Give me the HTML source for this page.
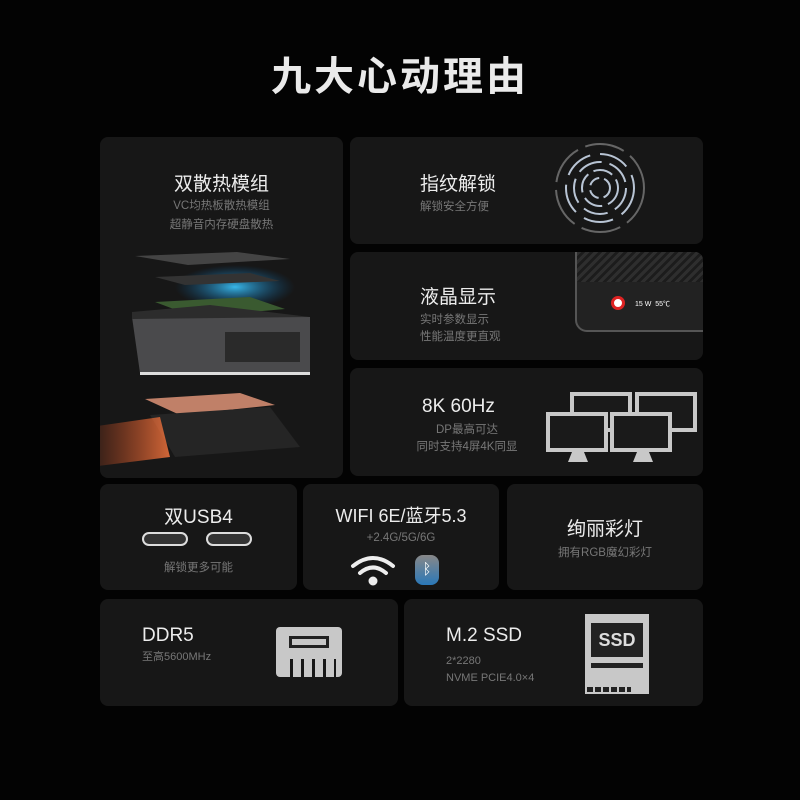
<!DOCTYPE html>
<html><head><meta charset="utf-8"><style>
*{margin:0;padding:0;box-sizing:border-box}
body{width:800px;height:800px;background:#030303;position:relative;overflow:hidden;font-family:"Liberation Sans","Noto Sans CJK SC",sans-serif;color:#e6e6e6}
.c{position:absolute;background:#171717;border-radius:8px;overflow:hidden}
.t{position:absolute;font-size:19px;color:#ececec;white-space:nowrap}
.s{position:absolute;font-size:11.5px;color:#777;white-space:nowrap;line-height:17px}
</style></head><body>
<div class="t" style="left:0;width:800px;text-align:center;top:44px;font-size:40px;font-weight:bold;letter-spacing:3px;color:#eaeaea">九大心动理由</div>

<div class="c" style="left:100px;top:137px;width:243px;height:341px">
 <div class="t" style="left:0;width:243px;text-align:center;top:32px">双散热模组</div>
 <div class="s" style="left:0;width:243px;text-align:center;top:60px;line-height:19px">VC均热板散热模组<br>超静音内存硬盘散热</div>
 <svg width="243" height="341" style="position:absolute;left:0;top:0">
  <defs><radialGradient id="b"><stop offset="0" stop-color="#3cc8ff" stop-opacity=".9"/><stop offset="1" stop-color="#0a5a9a" stop-opacity="0"/></radialGradient>
  <linearGradient id="o" x1="0" x2="1"><stop offset="0" stop-color="#e05020" stop-opacity=".1"/><stop offset="1" stop-color="#ff7a40" stop-opacity=".8"/></linearGradient></defs>
  <polygon points="35,119 137,115 190,122 88,128" fill="#444"/>
  <ellipse cx="135" cy="150" rx="60" ry="22" fill="url(#b)"/>
  <polygon points="55,140 150,136 180,144 85,148" fill="#333"/>
  <polygon points="55,165 150,160 185,172 95,180" fill="#3a5a30"/>
  <polygon points="32,180 210,180 210,236 40,236" fill="#4a4a4c"/>
  <polygon points="32,175 110,168 210,180 32,182" fill="#2c2c2c"/>
  <rect x="125" y="195" width="75" height="30" fill="#2a2a2a"/>
  <rect x="40" y="235" width="170" height="3" fill="#ddd"/>
  <polygon points="45,262 140,256 175,268 80,278" fill="#c08068"/>
  <polygon points="50,278 170,270 200,310 75,320" fill="#252525"/>
  <polygon points="-10,290 60,280 70,320 -10,330" fill="url(#o)"/>
 </svg>
</div>

<div class="c" style="left:350px;top:137px;width:353px;height:107px">
 <div class="t" style="left:70px;top:32px">指纹解锁</div>
 <div class="s" style="left:70px;top:62px">解锁安全方便</div>
 <svg width="100" height="100" style="position:absolute;left:200px;top:5px" fill="none" stroke="#b8c4d4" stroke-width="2">
  <circle cx="50" cy="46" r="44" stroke="#666" stroke-dasharray="40 8"/>
  <circle cx="50" cy="46" r="34" stroke-dasharray="30 10"/>
  <circle cx="50" cy="46" r="26" stroke-dasharray="25 8"/>
  <circle cx="50" cy="46" r="18" stroke-dasharray="20 6"/>
  <circle cx="50" cy="46" r="10" stroke-dasharray="12 5"/>
 </svg>
</div>

<div class="c" style="left:350px;top:252px;width:353px;height:108px">
 <div class="t" style="left:70px;top:30px">液晶显示</div>
 <div class="s" style="left:70px;top:60px">实时参数显示<br>性能温度更直观</div>
 <div style="position:absolute;left:225px;top:0;width:130px;height:80px;background:#222;border:2px solid #555;border-top:none;border-right:none;border-radius:0 0 0 12px">
  <div style="position:absolute;left:0;top:0;right:0;height:30px;background:repeating-linear-gradient(135deg,#2e2e2e 0 3px,#1c1c1c 3px 6px)"></div>
  <div style="position:absolute;left:34px;top:44px;width:14px;height:14px;border-radius:50%;background:#fff;border:3px solid #d22"></div>
  <div style="position:absolute;left:58px;top:47px;font-size:7px;color:#fff">15 W &nbsp;55℃</div>
 </div>
</div>

<div class="c" style="left:350px;top:368px;width:353px;height:108px">
 <div class="t" style="left:72px;top:28px">8K 60Hz</div>
 <div class="s" style="left:52px;top:54px;width:130px;text-align:center">DP最高可达<br>同时支持4屏4K同显</div>
 <svg width="160" height="80" style="position:absolute;left:192px;top:22px" fill="#1a1a1a" stroke="#c8c8c8" stroke-width="4">
  <rect x="30" y="4" width="58" height="36"/><rect x="95" y="4" width="58" height="36"/>
  <rect x="6" y="24" width="58" height="36"/><rect x="70" y="24" width="58" height="36"/>
  <path d="M30 62h12l4 10h-20z M95 62h12l4 10h-20z" fill="#c8c8c8" stroke="none"/>
 </svg>
</div>

<div class="c" style="left:100px;top:484px;width:197px;height:106px">
 <div class="t" style="left:0;width:197px;text-align:center;top:18px">双USB4</div>
 <div style="position:absolute;left:42px;top:48px;width:46px;height:14px;border:2px solid #ddd;border-radius:8px;background:#333"></div>
 <div style="position:absolute;left:106px;top:48px;width:46px;height:14px;border:2px solid #ddd;border-radius:8px;background:#333"></div>
 <div class="s" style="left:0;width:197px;text-align:center;top:76px">解锁更多可能</div>
</div>

<div class="c" style="left:303px;top:484px;width:196px;height:106px">
 <div class="t" style="left:0;width:196px;text-align:center;top:18px;font-size:18px">WIFI 6E/蓝牙5.3</div>
 <div class="s" style="left:0;width:196px;text-align:center;top:46px">+2.4G/5G/6G</div>
 <svg width="50" height="34" style="position:absolute;left:45px;top:70px" fill="none" stroke="#eee" stroke-width="4" stroke-linecap="round">
  <path d="M5 12 Q25 -4 45 12"/><path d="M12 19 Q25 8 38 19"/><circle cx="25" cy="27" r="2.5" fill="#eee"/>
 </svg>
 <div style="position:absolute;left:112px;top:71px;width:24px;height:30px;border-radius:8px;background:linear-gradient(#888,#2a78b8);color:#fff;font-size:15px;text-align:center;line-height:30px">ᛒ</div>
</div>

<div class="c" style="left:507px;top:484px;width:196px;height:106px">
 <div class="t" style="left:0;width:196px;text-align:center;top:30px">绚丽彩灯</div>
 <div class="s" style="left:0;width:196px;text-align:center;top:61px">拥有RGB魔幻彩灯</div>
</div>

<div class="c" style="left:100px;top:599px;width:298px;height:107px">
 <div class="t" style="left:42px;top:26px">DDR5</div>
 <div class="s" style="left:42px;top:50px;font-size:11px">至高5600MHz</div>
 <div style="position:absolute;left:176px;top:28px;width:66px;height:50px;background:#c8c8c8;border-radius:4px"></div>
 <div style="position:absolute;left:189px;top:37px;width:40px;height:12px;border:3px solid #222"></div>
 <div style="position:absolute;left:182px;top:60px;width:54px;height:18px;background:repeating-linear-gradient(90deg,#c8c8c8 0 8px,#171717 8px 11px)"></div>
</div>

<div class="c" style="left:404px;top:599px;width:299px;height:107px">
 <div class="t" style="left:42px;top:26px">M.2 SSD</div>
 <div class="s" style="left:42px;top:54px;font-size:11px">2*2280<br>NVME PCIE4.0×4</div>
 <div style="position:absolute;left:181px;top:15px;width:64px;height:80px;background:#c8c8c8"></div>
 <div style="position:absolute;left:187px;top:24px;width:52px;height:34px;background:#222;color:#ddd;font-weight:bold;font-size:18px;text-align:center;line-height:34px">SSD</div>
 <div style="position:absolute;left:187px;top:64px;width:52px;height:5px;background:#222"></div>
 <div style="position:absolute;left:183px;top:88px;width:44px;height:5px;background:repeating-linear-gradient(90deg,#222 0 6px,#c8c8c8 6px 8px)"></div>
</div>
</body></html>
